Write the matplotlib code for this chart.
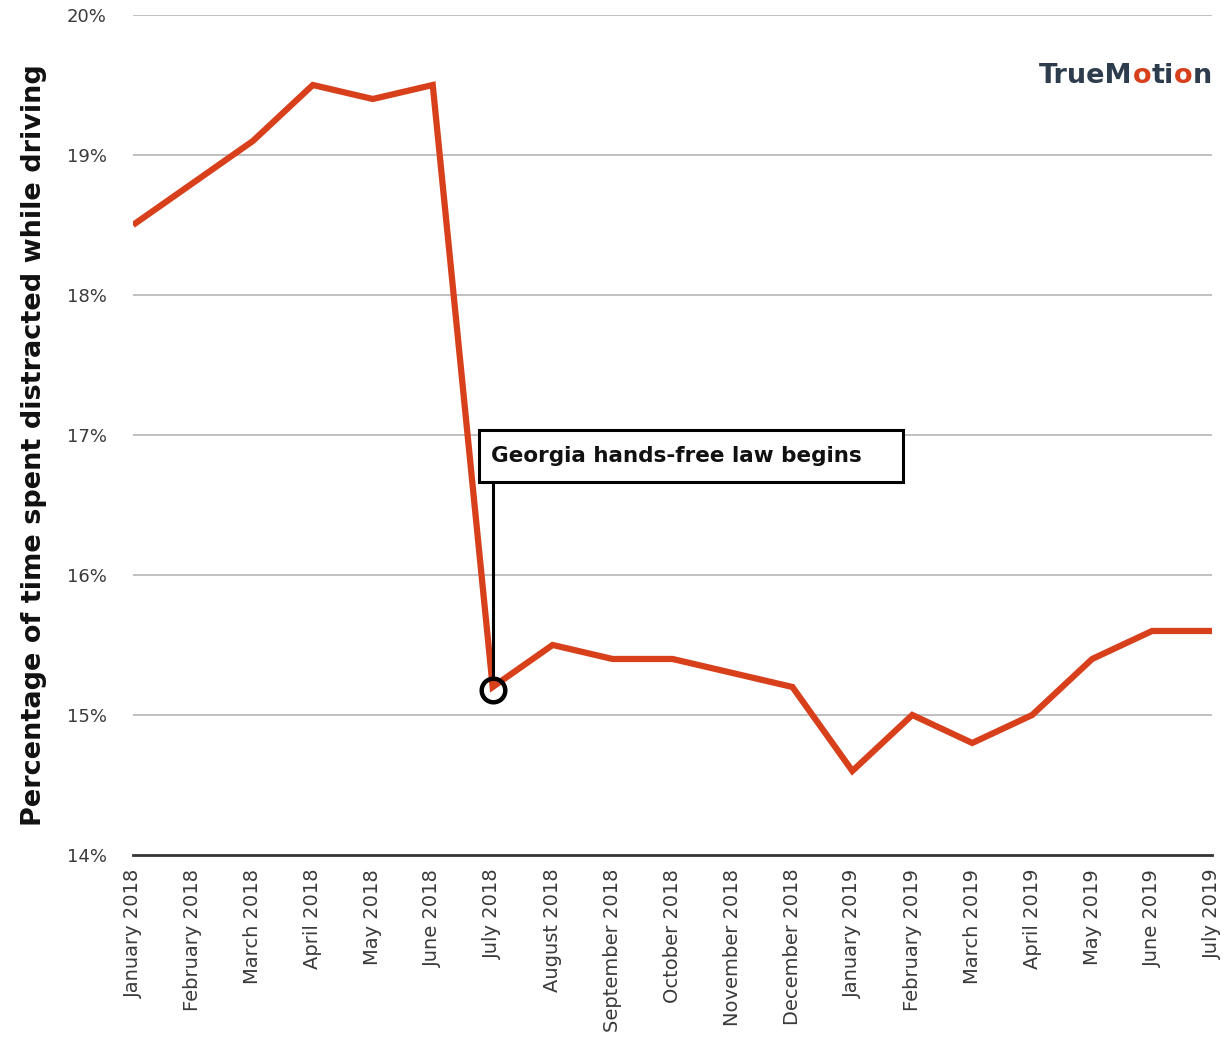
import numpy as np
import matplotlib.pyplot as plt
from matplotlib.patches import Rectangle
from matplotlib.ticker import FuncFormatter

months = ["January 2018", "February 2018", "March 2018", "April 2018", "May 2018",
          "June 2018", "July 2018", "August 2018", "September 2018", "October 2018",
          "November 2018", "December 2018", "January 2019", "February 2019",
          "March 2019", "April 2019", "May 2019", "June 2019", "July 2019"]
distracted_pct = [18.5, 18.8, 19.1, 19.5, 19.4, 19.5, 15.2, 15.5, 15.4, 15.4,
                  15.3, 15.2, 14.6, 15.0, 14.8, 15.0, 15.4, 15.6, 15.6]
y_ticks = [14, 15, 16, 17, 18, 19, 20]
law_month = "July 2018"
law_label = "Georgia hands-free law begins"

LINE_RED = "#d8401c"
TEXT_GRAY = "#3a3a3a"
LOGO_DARK = "#2e3d4d"

plt.rcParams['font.family'] = ['DejaVu Sans']

fig = plt.figure(figsize=(12.27, 10.41), dpi=100)
ax = fig.add_axes([0.1084, 0.1787, 0.8794, 0.8069])

x = np.arange(len(months))
ax.plot(x, distracted_pct, color=LINE_RED, lw=4.5, solid_joinstyle='miter',
        solid_capstyle='butt', zorder=3)

ax.set_xlim(0, len(months) - 1)
ax.set_ylim(14, 20)
ax.set_yticks(y_ticks)
ax.yaxis.set_major_formatter(FuncFormatter(lambda v, _: f"{v:.0f}%"))
ax.set_xticks(x)
ax.set_xticklabels(months, rotation=90, fontsize=14, color=TEXT_GRAY)
for lbl in ax.get_yticklabels():
    lbl.set_fontsize(13)
    lbl.set_color(TEXT_GRAY)
ax.tick_params(axis='both', length=0)
ax.tick_params(axis='y', pad=19)
ax.tick_params(axis='x', pad=10)

for yv in y_ticks[1:]:
    ax.axhline(yv, color="#b5b5b5", lw=1.2, zorder=1)
for side in ["top", "right", "left"]:
    ax.spines[side].set_visible(False)
ax.spines["bottom"].set_color("#333333")
ax.spines["bottom"].set_linewidth(2)

ax.set_ylabel("Percentage of time spent distracted while driving", fontsize=19.5,
              fontweight='bold', color="#111111")
ax.yaxis.set_label_coords(-0.08, 0.488)

# annotation for the law start
i = months.index(law_month)
yi = distracted_pct[i]
box_left, box_right, box_bottom, box_top = i - 0.23, i + 6.85, 16.665, 17.035
ax.add_patch(Rectangle((box_left, box_bottom), box_right - box_left, box_top - box_bottom,
                       facecolor="white", edgecolor="black", lw=2.2, zorder=4))
ax.text(box_left + 0.2, (box_bottom + box_top) / 2, law_label, fontsize=15.5,
        fontweight='bold', va='center', ha='left', color="#111111", zorder=5)
ax.plot([i, i], [box_bottom, yi + 0.08], color="black", lw=2.2, zorder=4)
ax.plot([i], [yi - 0.02], marker='o', ms=17, mfc='none', mec='black', mew=3.2, zorder=5)

# logo, built from chained pieces so the o's can be red
prev = fig.text(0.847, 0.927, "TrueM", fontsize=19.5, fontweight='bold',
                color=LOGO_DARK, va='center', ha='left')
for part, col in [("o", LINE_RED), ("ti", LOGO_DARK), ("o", LINE_RED), ("n", LOGO_DARK)]:
    prev = ax.annotate(part, xy=(1, 0.5), xycoords=prev, va='center', ha='left',
                       fontsize=19.5, fontweight='bold', color=col,
                       annotation_clip=False)

fig.savefig("out.png", dpi=100, facecolor="white")
